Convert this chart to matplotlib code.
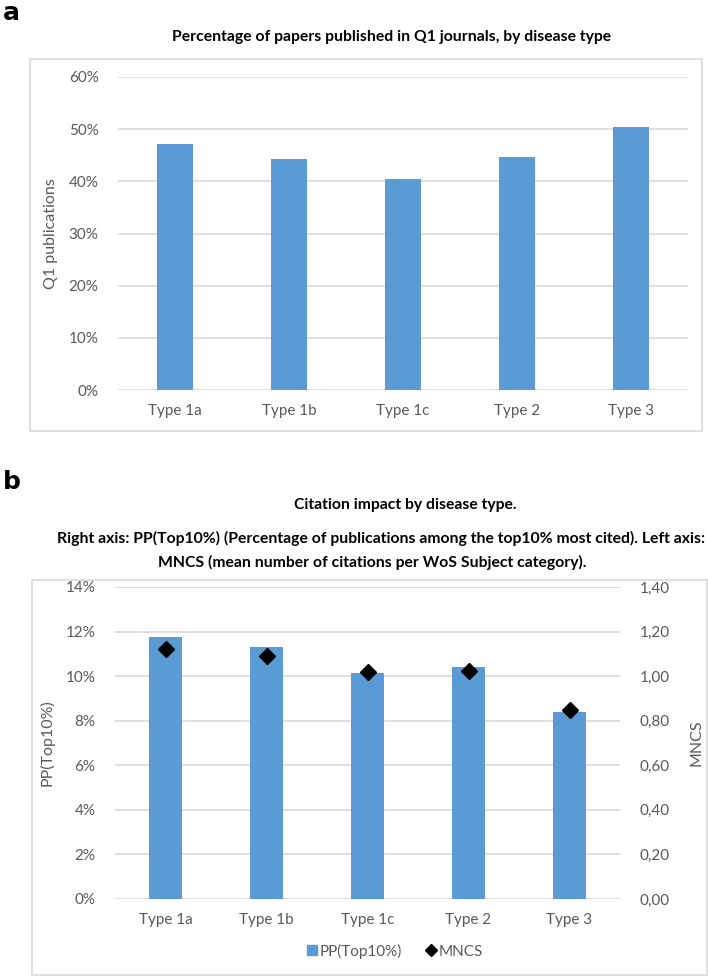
import matplotlib.pyplot as plt
from matplotlib.patches import Rectangle
from matplotlib.lines import Line2D
import matplotlib.ticker as mticker

# data
types = ["Type 1a", "Type 1b", "Type 1c", "Type 2", "Type 3"]
q1_pct = [47.2, 44.3, 40.4, 44.7, 50.4]
pp_top10 = [11.75, 11.31, 10.12, 10.42, 8.39]
mncs = [1.12, 1.09, 1.02, 1.025, 0.85]

BLUE = "#5B9BD5"
GRID = "#D9D9D9"
TXT = "#595959"
W, H = 708, 976

plt.rcParams['font.family'] = ['Lato', 'DejaVu Sans']

fig = plt.figure(figsize=(W / 100, H / 100), dpi=100)


def fx(px):
    return px / W


def fy(py):
    return 1 - py / H


def frame(x0, y0, x1, y1):
    fig.patches.append(Rectangle((fx(x0), fy(y1)), fx(x1) - fx(x0), fy(y0) - fy(y1),
                                 transform=fig.transFigure, fill=False,
                                 edgecolor=GRID, linewidth=1.2))


def style(ax):
    for s in ax.spines.values():
        s.set_visible(False)
    ax.tick_params(length=0, colors=TXT, labelsize=11)
    ax.yaxis.grid(True, color=GRID, linewidth=1.2)
    ax.set_axisbelow(True)


# panel a
fig.text(0.004, fy(13), "a", fontsize=18, fontweight='bold', family='DejaVu Sans', va='center')
frame(30, 59, 702, 431)
fig.text(fx(392), fy(37), "Percentage of papers published in Q1 journals, by disease type",
         ha='center', va='center', fontsize=11.3, fontweight='bold')

ax1 = fig.add_axes([fx(118), fy(390), fx(688) - fx(118), fy(77) - fy(390)])
style(ax1)
ax1.bar(types, q1_pct, width=0.32, color=BLUE)
ax1.set_ylim(0, 60)
ax1.set_xlim(-0.5, 4.5)
ax1.set_yticks(range(0, 61, 10))
ax1.yaxis.set_major_formatter(mticker.FuncFormatter(lambda v, p: f"{v:.0f}%"))
ax1.tick_params(axis='y', pad=14)
ax1.tick_params(axis='x', pad=10)
ax1.set_ylabel("Q1 publications", color=TXT, fontsize=11.5, labelpad=8)

# panel b
fig.text(0.004, fy(482), "b", fontsize=18, fontweight='bold', family='DejaVu Sans', va='center')
frame(32, 580, 707, 975)
fig.text(fx(405), fy(505), "Citation impact by disease type.",
         ha='center', va='center', fontsize=11.3, fontweight='bold')
fig.text(fx(381), fy(538),
         "Right axis: PP(Top10%) (Percentage of publications among the top10% most cited). Left axis:",
         ha='center', va='center', fontsize=11.3, fontweight='bold')
fig.text(fx(372), fy(562), "MNCS (mean number of citations per WoS Subject category).",
         ha='center', va='center', fontsize=11.3, fontweight='bold')

ax2 = fig.add_axes([fx(115), fy(899), fx(620) - fx(115), fy(587) - fy(899)])
style(ax2)
ax2.bar(types, pp_top10, width=0.32, color=BLUE)
ax2.set_ylim(0, 14)
ax2.set_xlim(-0.5, 4.5)
ax2.set_yticks(range(0, 15, 2))
ax2.yaxis.set_major_formatter(mticker.FuncFormatter(lambda v, p: f"{v:.0f}%"))
ax2.tick_params(axis='y', pad=14)
ax2.tick_params(axis='x', pad=10)
ax2.set_ylabel("PP(Top10%)", color=TXT, fontsize=11.5, labelpad=8)

ax3 = ax2.twinx()
for s in ax3.spines.values():
    s.set_visible(False)
ax3.plot(types, mncs, linestyle='none', marker='D', color='black', markersize=8)
ax3.set_ylim(0, 1.4)
ax3.set_yticks([i * 0.2 for i in range(8)])
ax3.yaxis.set_major_formatter(mticker.FuncFormatter(lambda v, p: f"{v:.2f}".replace('.', ',')))
ax3.tick_params(length=0, colors=TXT, labelsize=11, pad=14)
ax3.set_ylabel("MNCS", color=TXT, fontsize=11.5, labelpad=14)

handles = [Line2D([], [], linestyle='none', marker='s', color=BLUE, markersize=7),
           Line2D([], [], linestyle='none', marker='D', color='black', markersize=6)]
fig.legend(handles, ["PP(Top10%)", "MNCS"], loc='center', bbox_to_anchor=(fx(395), fy(951)),
           ncol=2, frameon=False, fontsize=11, labelcolor=TXT, handlelength=0.6,
           handletextpad=0.2, columnspacing=1.6)

fig.savefig("out.png", dpi=100)
